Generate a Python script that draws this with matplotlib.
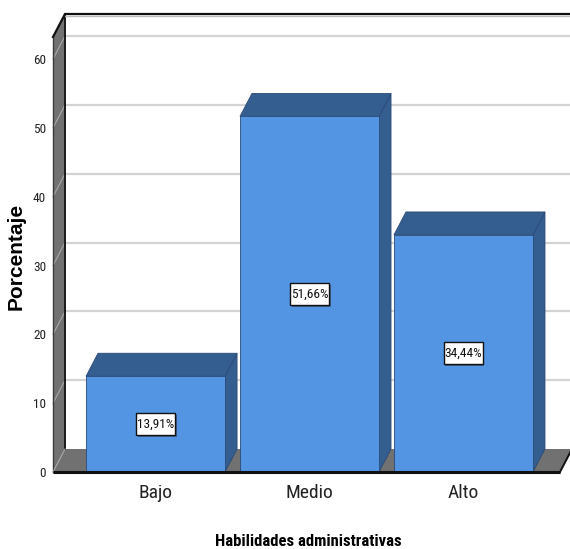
import matplotlib
matplotlib.use("Agg")
import matplotlib.pyplot as plt
from matplotlib.patches import Polygon, Rectangle
from matplotlib import font_manager

# ---- data -------------------------------------------------------------
categories = ["Bajo", "Medio", "Alto"]
percentages = [13.91, 51.66, 34.44]
value_labels = ["13,91%", "51,66%", "34,44%"]
y_ticks = [0, 10, 20, 30, 40, 50, 60]
y_max = 63.2

# ---- fonts ------------------------------------------------------------
installed = {f.name for f in font_manager.fontManager.ttflist}

def pick(*names):
    for n in names:
        if n in installed:
            return n
    return "DejaVu Sans"

COND = pick("Roboto Condensed", "Archivo Narrow", "Liberation Sans")
SANS = pick("Liberation Sans", "DejaVu Sans")

# ---- colours ----------------------------------------------------------
WALL = "#717171"
GRID = "#d3d3d3"
BAR_FRONT = "#5495e3"
BAR_DARK = "#345d90"
BAR_EDGE = "#2a4a75"

W, H = 570, 549
fig = plt.figure(figsize=(W / 100, H / 100), dpi=100)
left_px, right_px, bottom_px, top_px = 53, 560, 472, 37
ax = fig.add_axes([left_px / W, 1 - bottom_px / H,
                   (right_px - left_px) / W, (bottom_px - top_px) / H])
ax.set_ylim(0, y_max)
ax.set_xlim(-0.666, 2.627)
for s in ax.spines.values():
    s.set_visible(False)

# pixel sizes converted to data units
x0, x1 = ax.get_xlim()
px_x = (x1 - x0) / (right_px - left_px)
px_y = y_max / (bottom_px - top_px)
dx, dy = 12 * px_x, 23 * px_y

def poly(pts, fc, ec="none", lw=0, z=1):
    ax.add_patch(Polygon(pts, closed=True, facecolor=fc, edgecolor=ec,
                         linewidth=lw, zorder=z, clip_on=False))

# back wall gridlines
for v in y_ticks[1:]:
    ax.plot([x0 + dx, x1 + dx + 0.2], [v + dy, v + dy], color=GRID, lw=1.6,
            zorder=1, clip_on=False, solid_capstyle="butt")

# left wall
poly([(x0, 0), (x0, y_max), (x0 + dx, y_max + dy), (x0 + dx, dy)], WALL, z=2)
for v in y_ticks[1:]:
    ax.plot([x0, x0 + dx], [v, v + dy], color="#a8a8a8", lw=0.8, zorder=3,
            clip_on=False)
ax.plot([x0 + dx, x0 + dx], [dy, y_max + dy], color="#1a1a1a", lw=1.4,
        zorder=3, clip_on=False)
ax.plot([x0, x0], [0, y_max], color="#3a3a3a", lw=1.0, zorder=3, clip_on=False)

# floor
poly([(x0, 0), (x1, 0), (x1 + dx, dy), (x0 + dx, dy)], WALL, z=2)
ax.plot([x0, x0 + dx], [0, dy], color="#a8a8a8", lw=0.8, zorder=3, clip_on=False)
ax.plot([x0, x1], [0, 0], color="#111111", lw=2.2, zorder=6, clip_on=False,
        solid_capstyle="butt")
ax.plot([x1, x1 + dx], [0, dy], color="#111111", lw=1.4, zorder=6, clip_on=False)

# top edge of the box
ax.plot([x0 + dx, x1 + dx + 0.2], [y_max + dy - 0.25, y_max + dy - 0.25],
        color="#bdbdbd", lw=1.0, zorder=3, clip_on=False)
ax.plot([x0, x0 + dx, x1 + dx + 0.2], [y_max, y_max + dy, y_max + dy],
        color="#111111", lw=1.6, zorder=4, clip_on=False)

# bars with value boxes
bar_w = 0.903
box_w, box_h = 39 * px_x, 22 * px_y
for i, (v, lab) in enumerate(zip(percentages, value_labels)):
    l, r = i - bar_w / 2, i + bar_w / 2
    poly([(r, 0), (r, v), (r + dx, v + dy), (r + dx, dy)], BAR_DARK,
         ec=BAR_EDGE, lw=0.6, z=5)
    poly([(l, v), (r, v), (r + dx, v + dy), (l + dx, v + dy)], BAR_DARK,
         ec=BAR_EDGE, lw=0.6, z=5)
    ax.add_patch(Rectangle((l, 0), bar_w, v, facecolor=BAR_FRONT,
                           edgecolor=BAR_EDGE, linewidth=0.6, zorder=5,
                           clip_on=False))
    # shadowed white box
    ax.add_patch(Rectangle((i - box_w / 2 + 1.5 * px_x, v / 2 - box_h / 2 - 1.5 * px_y),
                           box_w, box_h, facecolor="#3d5f8c", edgecolor="none",
                           zorder=7))
    ax.add_patch(Rectangle((i - box_w / 2, v / 2 - box_h / 2), box_w, box_h,
                           facecolor="white", edgecolor="#111111",
                           linewidth=1.0, zorder=8))
    ax.text(i, v / 2, lab, ha="center", va="center", fontsize=9.6,
            family=COND, zorder=9, color="#111111")

# axes ticks and labels
ax.set_yticks(y_ticks)
ax.set_yticklabels([str(t) for t in y_ticks], family=COND, fontsize=9.5,
                   color="#222222")
ax.set_xticks(range(len(categories)))
ax.set_xticklabels(categories, family=COND, fontsize=14, color="#222222")
ax.tick_params(axis="y", length=0, pad=5)
ax.tick_params(axis="x", length=0, pad=9)

fig.text(308.5 / W, 1 - 541 / H, "Habilidades administrativas", ha="center",
         va="center", family=COND, fontweight="bold", fontsize=12)
fig.text(16 / W, 1 - 256 / H, "Porcentaje", ha="center", va="center",
         rotation=90, family=SANS, fontweight="bold", fontsize=15)

fig.savefig("out.png", dpi=100)
